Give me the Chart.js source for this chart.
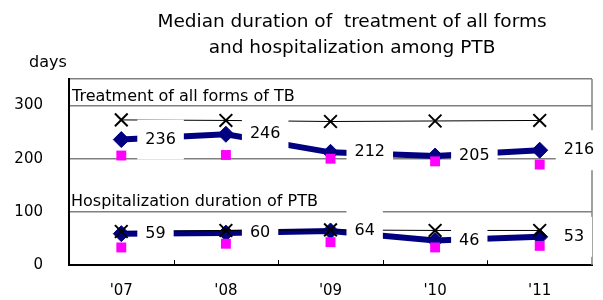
<!DOCTYPE html>
<html>
<head>
<meta charset="utf-8">
<script src="https://cdn.jsdelivr.net/npm/chart.js@4"></script>
<style>
  body { margin: 0; background: #fff; }
  #wrap { width: 603px; height: 300px; }
</style>
</head>
<body>
<div id="wrap"><canvas id="myChart" width="603" height="300"></canvas></div>
<script>
// Dữ liệu
const years = ["'07", "'08", "'09", "'10", "'11"];
const treatMedian = [236, 246, 212, 205, 216];
const treatHigh = [273, 272, 270, 271, 272];
const treatLow = [206, 207, 200, 195, 189];
const hospMedian = [59, 60, 64, 46, 53];
const hospHigh = [63, 65, 66, 65, 65];
const hospLow = [33, 40, 43, 33, 36];
const yTicks = [0, 100, 200, 300];
const yMax = 350;
const titleLines = ["Median duration of  treatment of all forms", "and hospitalization among PTB"];
const yUnit = "days";
const captions = ["Treatment of all forms of TB", "Hospitalization duration of PTB"];

const FONT = "'DejaVu Sans', sans-serif";

// Vẽ tiêu đề, khung, nhãn giá trị
const decorPlugin = {
    id: "decor",
    beforeDraw(chart) {
        const ctx = chart.ctx;
        ctx.save();
        ctx.fillStyle = "#fff";
        ctx.fillRect(0, 0, chart.width, chart.height);
        ctx.restore();
    },
    afterDraw(chart) {
        const ctx = chart.ctx;
        const area = chart.chartArea;
        const xs = chart.scales.x, ys = chart.scales.y;
        ctx.save();

        // tiêu đề
        ctx.fillStyle = "#000";
        ctx.textAlign = "center";
        ctx.textBaseline = "middle";
        ctx.font = "18.5px " + FONT;
        ctx.fillText(titleLines[0], 352, 22);
        ctx.fillText(titleLines[1], 352, 48);

        ctx.font = "16px " + FONT;
        ctx.fillText(yUnit, 48, 63);

        // viền phải
        ctx.strokeStyle = "#808080";
        ctx.lineWidth = 1.5;
        ctx.beginPath();
        ctx.moveTo(area.right, area.top);
        ctx.lineTo(area.right, area.bottom);
        ctx.stroke();

        // vạch chia trục x (hướng vào trong)
        ctx.strokeStyle = "#000";
        ctx.lineWidth = 1;
        const step = (xs.getPixelForValue(1) - xs.getPixelForValue(0));
        for (let i = 0; i < years.length - 1; i++) {
            const px = Math.round(xs.getPixelForValue(i) + step / 2) + 0.5;
            ctx.beginPath();
            ctx.moveTo(px, area.bottom);
            ctx.lineTo(px, area.bottom - 5);
            ctx.stroke();
        }

        // chú thích nhóm
        ctx.textAlign = "left";
        ctx.font = "16px " + FONT;
        ctx.fillText(captions[0], area.left + 3, ys.getPixelForValue(300) - 9);
        ctx.fillText(captions[1], area.left + 2, ys.getPixelForValue(100) - 10);

        // nhãn giá trị
        ctx.font = "16px " + FONT;
        [0, 1].forEach(di => {
            const meta = chart.getDatasetMeta(di);
            const vals = chart.data.datasets[di].data;
            meta.data.forEach((pt, i) => {
                const txt = String(vals[i]);
                const w = ctx.measureText(txt).width;
                ctx.fillStyle = "#fff";
                ctx.fillRect(pt.x + 16, pt.y - 20, w + 16, 40);
                ctx.fillStyle = "#000";
                ctx.fillText(txt, pt.x + 24, pt.y);
            });
        });
        ctx.restore();
    }
};

function lineSet(data, kind) {
    if (kind === "median") {
        return {
            data: data, borderColor: "#000080", borderWidth: 6,
            pointStyle: "rectRot", pointRadius: 8,
            pointBackgroundColor: "#000080", pointBorderColor: "#000080", pointBorderWidth: 1,
            tension: 0, order: 3
        };
    }
    if (kind === "high") {
        return {
            data: data, borderColor: "#000", borderWidth: 1,
            pointStyle: "crossRot", pointRadius: 9,
            pointBorderColor: "#000", pointBorderWidth: 2,
            tension: 0, order: 1
        };
    }
    return {
        data: data, showLine: false,
        pointStyle: "rect", pointRadius: 7,
        pointBackgroundColor: "#ff00ff", pointBorderColor: "#ff00ff", pointBorderWidth: 0,
        order: 2
    };
}

const ctx = document.getElementById("myChart").getContext("2d");
new Chart(ctx, {
    type: "line",
    data: {
        labels: years,
        datasets: [
            lineSet(treatMedian, "median"),
            lineSet(hospMedian, "median"),
            lineSet(treatHigh, "high"),
            lineSet(hospHigh, "high"),
            lineSet(treatLow, "low"),
            lineSet(hospLow, "low")
        ]
    },
    options: {
        responsive: false,
        animation: false,
        layout: { padding: { top: 79, right: 7, left: 0, bottom: 0 } },
        plugins: { legend: { display: false }, tooltip: { enabled: false }, title: { display: false } },
        scales: {
            x: {
                offset: true,
                grid: { display: false, drawTicks: false },
                border: { display: true, color: "#000", width: 2 },
                ticks: { color: "#000", font: { family: FONT, size: 15 }, padding: 17 },
                afterFit(s) { s.height = 35; }
            },
            y: {
                min: 0, max: yMax,
                afterBuildTicks(s) { s.ticks = yTicks.concat([yMax]).map(v => ({ value: v })); },
                grid: { color: "#808080", drawTicks: false, lineWidth: 1.5 },
                border: { color: "#000", width: 2 },
                ticks: {
                    color: "#000", font: { family: FONT, size: 15 }, padding: 26,
                    callback: v => yTicks.includes(v) ? String(v) : ""
                },
                afterFit(s) { s.width = 69; }
            }
        }
    },
    plugins: [decorPlugin]
});
</script>
</body>
</html>
